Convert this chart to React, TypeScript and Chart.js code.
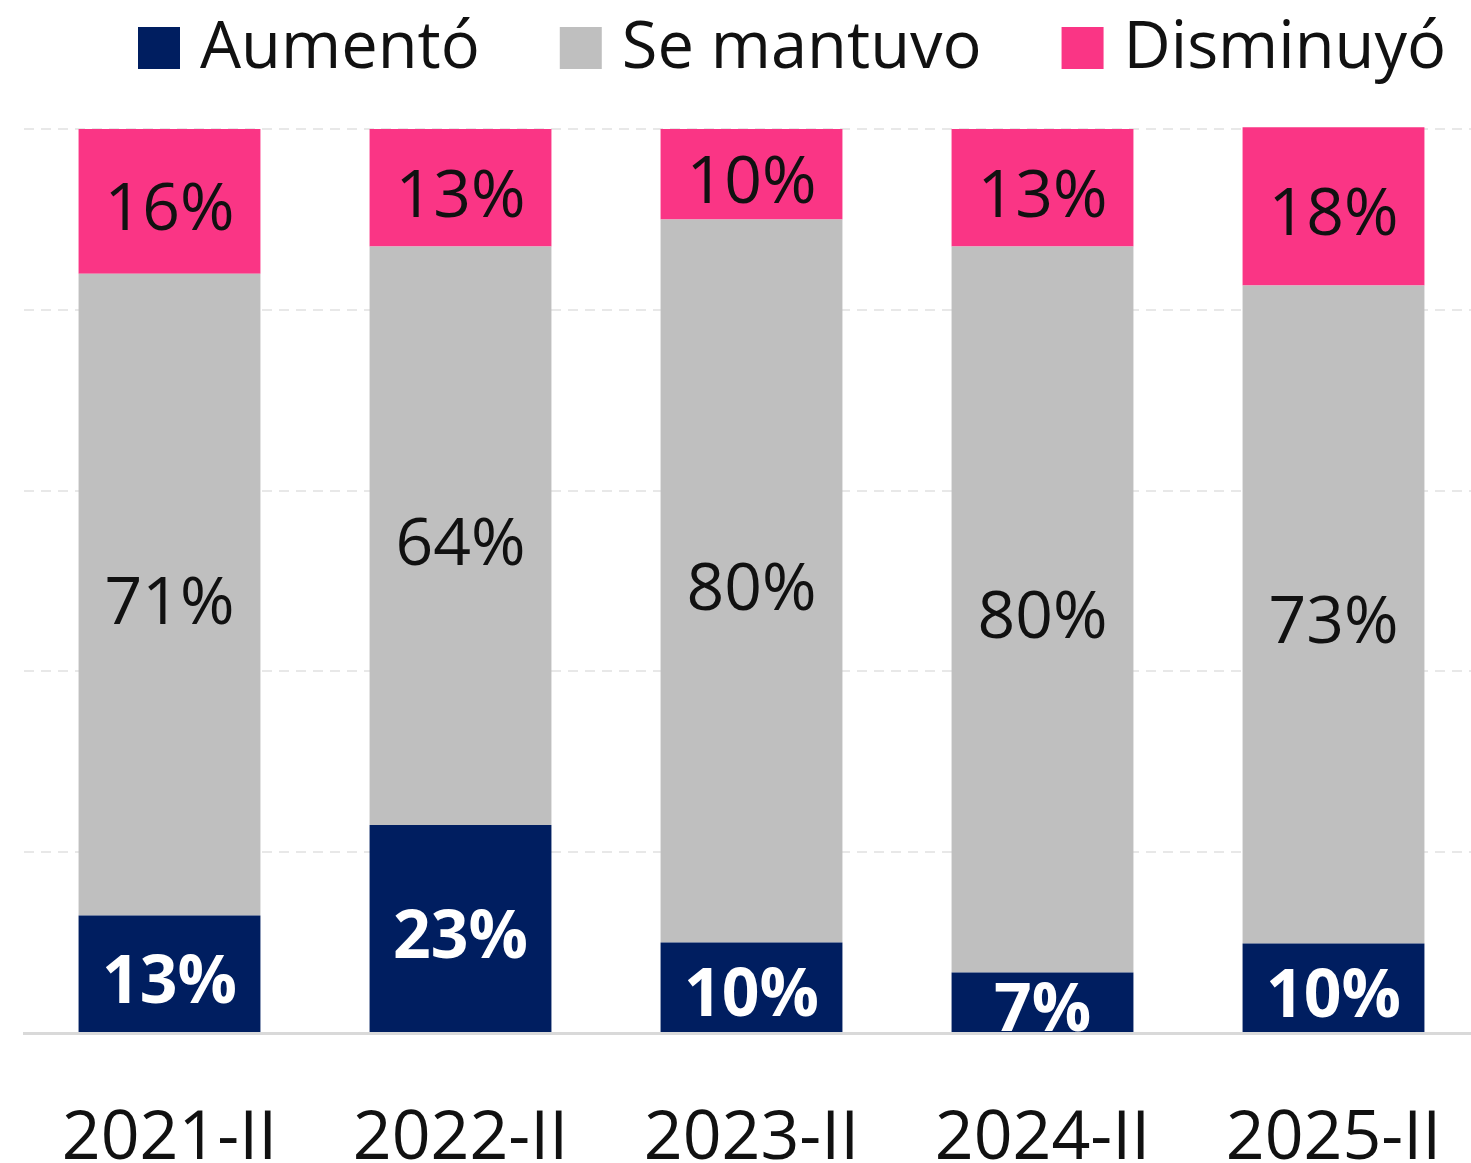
import React, { useEffect, useRef } from "react";
import { Chart, registerables } from "chart.js";

Chart.register(...registerables);

const categories = ["2021-II", "2022-II", "2023-II", "2024-II", "2025-II"];
const aumento = [13, 23, 10, 6.7, 9.9];
const seMantuvo = [71, 64, 80, 80.3, 72.8];
const disminuyo = [16, 13, 10, 13, 17.5];
const seriesLabels = ["Aumentó", "Se mantuvo", "Disminuyó"];
const seriesColors = ["#001E60", "#BFBFBF", "#FA3585"];
const labelColors = ["#FFFFFF", "#111111", "#111111"];
const labelBold = [true, false, false];
const yTicks = [0, 20, 40, 60, 80, 100];

const FONT = "'Open Sans', 'Noto Sans', sans-serif";

const legendPlugin = {
  id: "customLegend",
  afterDraw(chart: any) {
    const ctx = chart.ctx;
    ctx.save();
    ctx.font = `400 65px ${FONT}`;
    ctx.textBaseline = "alphabetic";
    ctx.textAlign = "left";
    let x = 138;
    chart.data.datasets.forEach((ds: any) => {
      ctx.fillStyle = ds.backgroundColor;
      ctx.fillRect(x, 27, 42, 42);
      x += 42 + 20;
      ctx.fillStyle = "#111111";
      ctx.fillText(ds.label, x, 68);
      x += ctx.measureText(ds.label).width + 80;
    });
    ctx.restore();
  },
};

const dataLabelPlugin = {
  id: "dataLabels",
  afterDatasetsDraw(chart: any) {
    const ctx = chart.ctx;
    ctx.save();
    ctx.textAlign = "center";
    ctx.textBaseline = "alphabetic";
    chart.data.datasets.forEach((ds: any, di: number) => {
      const meta = chart.getDatasetMeta(di);
      meta.data.forEach((el: any, i: number) => {
        const { x, y, base } = el.getProps(["x", "y", "base"], true);
        const cy = (y + base) / 2;
        ctx.font = `${labelBold[di] ? 700 : 400} 66px ${FONT}`;
        ctx.fillStyle = labelColors[di];
        ctx.fillText(`${Math.round(ds.data[i])}%`, x, cy + 29);
      });
    });
    ctx.restore();
  },
};

export default function App() {
  const ref = useRef<HTMLCanvasElement | null>(null);
  useEffect(() => {
    if (!ref.current) return;
    const seriesData = [aumento, seMantuvo, disminuyo];
    const chart = new Chart(ref.current, {
      type: "bar",
      data: {
        labels: categories,
        datasets: seriesData.map((d, i) => ({
          label: seriesLabels[i],
          data: d,
          backgroundColor: seriesColors[i],
          borderWidth: 0,
          categoryPercentage: 1,
          barPercentage: 0.625,
          clip: false as any,
        })),
      },
      options: {
        responsive: false,
        animation: false,
        layout: { padding: { left: 24, right: 1, top: 129, bottom: 0 } },
        plugins: {
          legend: { display: false },
          tooltip: { enabled: false },
        },
        scales: {
          x: {
            stacked: true,
            grid: { display: false, drawTicks: false },
            border: { display: true, color: "#D9D9D9", width: 3 },
            ticks: {
              color: "#111111",
              font: { family: FONT, size: 68 },
              padding: 66,
              maxRotation: 0,
            },
            afterFit: (s: any) => {
              s.height = 137;
              s.paddingLeft = 0;
              s.paddingRight = 0;
            },
          },
          y: {
            stacked: true,
            min: 0,
            max: 100,
            afterBuildTicks: (s: any) => {
              s.ticks = yTicks.map((v) => ({ value: v }));
            },
            ticks: { display: false },
            grid: {
              color: "#E8E8E8",
              lineWidth: 2,
              drawTicks: false,
            },
            border: { display: false, dash: [10, 7] },
            afterFit: (s: any) => {
              s.width = 0;
              s.paddingTop = 0;
              s.paddingBottom = 0;
            },
          },
        },
      },
      plugins: [legendPlugin, dataLabelPlugin],
    });
    return () => chart.destroy();
  }, []);

  return (
    <div
      style={{
        position: "absolute",
        left: 0,
        top: 0,
        width: 1471,
        height: 1163,
        overflow: "hidden",
        background: "#fff",
      }}
    >
      <canvas ref={ref} width={1480} height={1170} style={{ display: "block" }} />
    </div>
  );
}
